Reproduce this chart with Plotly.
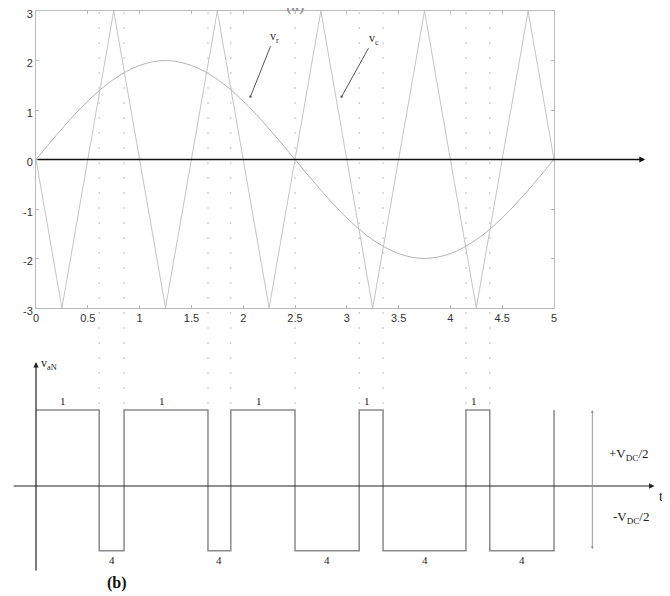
import plotly.graph_objects as go

# (a) carrier triangle and sinusoidal reference
carrier_t = [0, 0.25, 0.75, 1.25, 1.75, 2.25, 2.75, 3.25, 3.75, 4.25, 4.75, 5]
carrier_v = [0, -3, 3, -3, 3, -3, 3, -3, 3, -3, 3, 0]

ref_t = [0, 0.25, 0.5, 0.75, 1.0, 1.25, 1.5, 1.75, 2.0, 2.25, 2.5,
         2.75, 3.0, 3.25, 3.5, 3.75, 4.0, 4.25, 4.5, 4.75, 5.0]
ref_v = [0, 0.62, 1.18, 1.62, 1.9, 2.0, 1.9, 1.62, 1.18, 0.62, 0,
         -0.62, -1.18, -1.62, -1.9, -2.0, -1.9, -1.62, -1.18, -0.62, 0]

x_ticks = [0, 0.5, 1, 1.5, 2, 2.5, 3, 3.5, 4, 4.5, 5]
y_ticks = [-3, -2, -1, 0, 1, 2, 3]
y_ticktext = ["-3", "-2", "-1", "0", "1", "2", "3"]

# (b) switching instants and output levels
switch_t = [0.61, 0.85, 1.66, 1.88, 2.5, 3.12, 3.35, 4.15, 4.38, 5.0]
HIGH = 1.0
LOW = -0.85
high_label = "1"
low_label = "4"

# the page body keeps an 8px margin, so the figure is a little smaller
OFF = 8
W, H = 670 - OFF, 596 - OFF
PX0, PX1 = 36, 554          # page columns of t=0 and t=5
scale = (PX1 - PX0) / 5.0


def px(p):
    # page column -> paper x
    return (p - OFF) / W


def py(p):
    # page row -> paper y
    return 1 - (p - OFF) / H


edges = [0] + switch_t
levels = [HIGH if i % 2 == 0 else LOW for i in range(len(edges))]

fig = go.Figure()

fig.add_trace(go.Scatter(x=carrier_t, y=carrier_v, mode="lines",
                         line=dict(color="#c4c4c4", width=1),
                         xaxis="x", yaxis="y", hoverinfo="skip"))
fig.add_trace(go.Scatter(x=ref_t, y=ref_v, mode="lines",
                         line=dict(color="#b4b4b4", width=1, shape="spline"),
                         xaxis="x", yaxis="y", hoverinfo="skip"))
fig.add_trace(go.Scatter(x=edges, y=levels, mode="lines",
                         line=dict(color="#8a8a8a", width=1.5, shape="hv"),
                         xaxis="x2", yaxis="y2", hoverinfo="skip"))

# dotted guides from (a) down to (b)
shapes = []
for t in switch_t[:-1]:
    shapes.append(dict(type="line", xref="x2", yref="paper",
                       x0=t, x1=t, y0=py(12), y1=py(404),
                       line=dict(color="#c8c8c8", width=1.2, dash="2px,13px")))

serif = "Liberation Serif"
ink = "#222"
ann = []
# t axis of (a)
ann.append(dict(x=5.88, y=0, ax=0, ay=0, xref="x", yref="y", axref="x", ayref="y",
                text="", showarrow=True, arrowhead=2, arrowsize=0.9,
                arrowwidth=1.3, arrowcolor="#111"))
ann.append(dict(x=5.83, y=0, xref="x", yref="y", text="t", showarrow=False,
                yshift=-10, font=dict(family=serif, size=14, color=ink)))
# v_r / v_c pointers
ann.append(dict(x=2.07, y=1.27, ax=2.3, ay=2.48, xref="x", yref="y", axref="x", ayref="y",
                text="v<sub>r</sub>", showarrow=True, arrowhead=6, arrowsize=0.6,
                arrowwidth=1, arrowcolor="#555",
                font=dict(family=serif, size=12, color="#333")))
ann.append(dict(x=2.95, y=1.27, ax=3.26, ay=2.44, xref="x", yref="y", axref="x", ayref="y",
                text="v<sub>c</sub>", showarrow=True, arrowhead=6, arrowsize=0.6,
                arrowwidth=1, arrowcolor="#555",
                font=dict(family=serif, size=12, color="#333")))

# axes of (b)
ann.append(dict(x=5.97, y=0, ax=-0.23, ay=0, xref="x2", yref="y2", axref="x2", ayref="y2",
                text="", showarrow=True, arrowhead=2, arrowsize=0.9,
                arrowwidth=1.2, arrowcolor=ink))
ann.append(dict(x=6.03, y=0, xref="x2", yref="y2", text="t", showarrow=False,
                yshift=-10, font=dict(family=serif, size=14, color="#111")))
ann.append(dict(x=0, y=1.63, ax=0, ay=-1.13, xref="x2", yref="y2", axref="x2", ayref="y2",
                text="", showarrow=True, arrowhead=2, arrowsize=0.9,
                arrowwidth=1.2, arrowcolor=ink))
ann.append(dict(x=0, y=1.6, xref="x2", yref="y2", text="v<sub>aN</sub>",
                showarrow=False, xanchor="left", xshift=3,
                font=dict(family=serif, size=12, color=ink)))
# +/- VDC/2 span
ann.append(dict(x=5.37, y=HIGH, ax=5.37, ay=LOW, xref="x2", yref="y2",
                axref="x2", ayref="y2", text="", showarrow=True,
                arrowhead=2, startarrowhead=2, arrowside="end+start",
                arrowsize=0.6, startarrowsize=0.6, arrowwidth=1, arrowcolor="#999"))
ann.append(dict(x=5.72, y=0.41, xref="x2", yref="y2", text="+V<sub>DC</sub>/2",
                showarrow=False, font=dict(family=serif, size=13, color=ink)))
ann.append(dict(x=5.74, y=-0.41, xref="x2", yref="y2", text="-V<sub>DC</sub>/2",
                showarrow=False, font=dict(family=serif, size=13, color=ink)))

for i in range(len(edges) - 1):
    mid = (edges[i] + edges[i + 1]) / 2
    if i % 2 == 0:
        ann.append(dict(x=mid - 0.04, y=HIGH, xref="x2", yref="y2", text=high_label,
                        showarrow=False, yanchor="bottom", yshift=1,
                        font=dict(family=serif, size=11, color=ink)))
    else:
        ann.append(dict(x=mid, y=LOW, xref="x2", yref="y2", text=low_label,
                        showarrow=False, yanchor="top", yshift=-1,
                        font=dict(family=serif, size=11, color=ink)))

ann.append(dict(x=px(117), y=py(583), xref="paper", yref="paper", text="<b>(b)</b>",
                showarrow=False, xanchor="center", yanchor="middle",
                font=dict(family=serif, size=16, color="#111")))
ann.append(dict(x=px(295), y=py(6), xref="paper", yref="paper", text="<b>(a)</b>",
                showarrow=False, xanchor="center", yanchor="middle",
                font=dict(family=serif, size=16, color="#999")))

frame = dict(showline=True, linecolor="#bbbbbb", linewidth=1, mirror="allticks",
             ticks="inside", ticklen=3, tickcolor="#bbbbbb", showgrid=False,
             zeroline=False, automargin=False, ticklabeloverflow="allow",
             tickfont=dict(family="Liberation Sans", size=11, color="#333"))

fig.update_layout(
    template="none",
    width=W, height=H,
    margin=dict(l=0, r=0, t=0, b=0, pad=0),
    paper_bgcolor="white", plot_bgcolor="white",
    showlegend=False,
    xaxis=dict(domain=[px(PX0), px(PX1)], range=[0, 5], tickvals=x_ticks,
               anchor="y", **frame),
    yaxis=dict(domain=[py(308), py(11)], range=[-3, 3], tickvals=y_ticks,
               ticktext=y_ticktext, anchor="x", ticklabelshift=3, **frame),
    xaxis2=dict(domain=[0, 1], range=[(OFF - PX0) / scale, (670 - PX0) / scale],
                visible=False, anchor="y2", automargin=False),
    yaxis2=dict(domain=[py(572), py(362)], range=[-1.13, 1.63],
                visible=False, anchor="x2", automargin=False),
    shapes=shapes,
    annotations=ann,
)

fig.write_html("out.html")
